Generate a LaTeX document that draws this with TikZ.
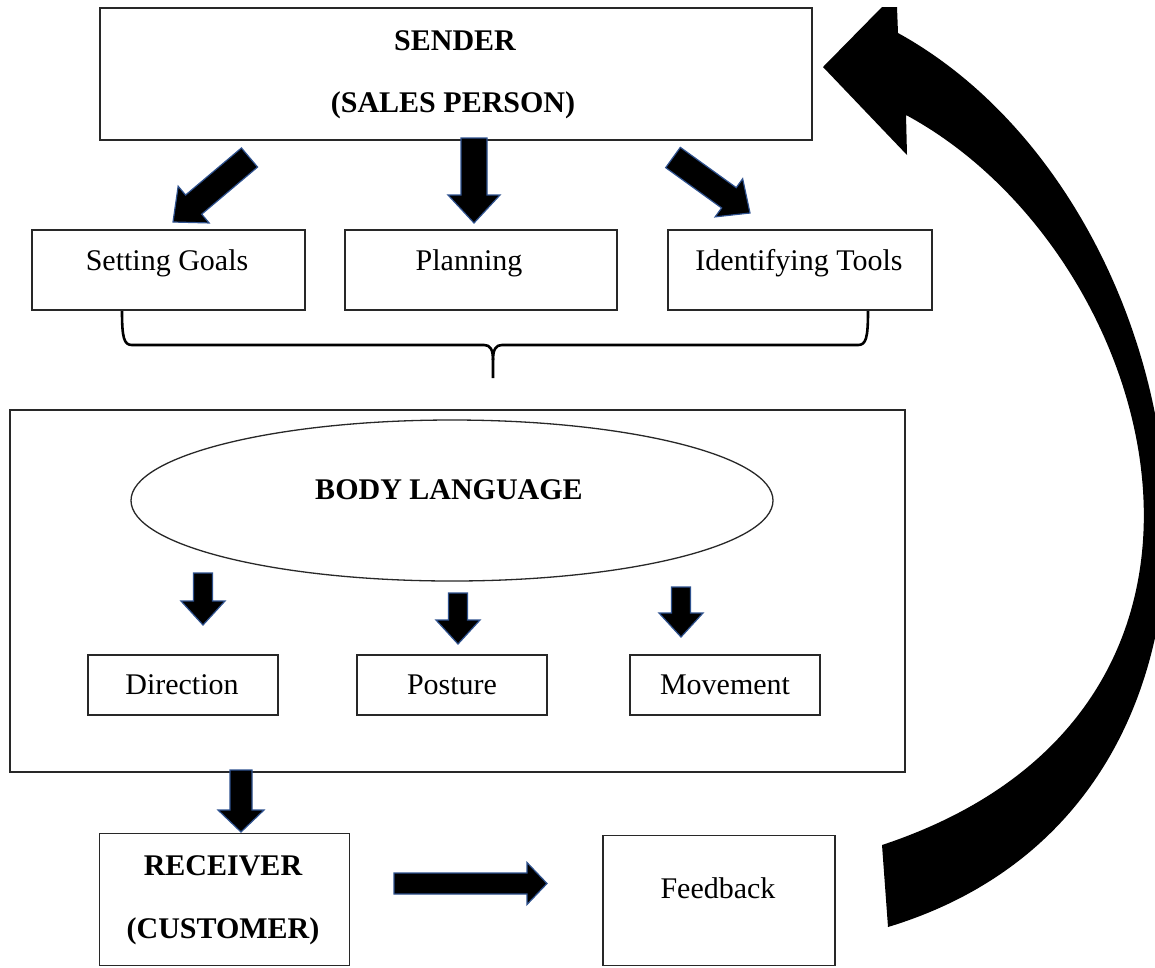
\documentclass[tikz,border=0pt]{standalone}
\usepackage{fontspec}
\setmainfont{Liberation Serif}
\usetikzlibrary{calc,shapes.geometric}
\definecolor{arrowedge}{RGB}{47,82,143}
\definecolor{boxedge}{RGB}{40,40,40}
\tikzset{
  box/.style={draw=boxedge, line width=1.3pt, fill=none, inner sep=0pt, anchor=center},
  txt/.style={font=\fontsize{30}{36}\selectfont, inner sep=0pt, anchor=base},
  txtb/.style={txt, font=\fontsize{30}{36}\selectfont\bfseries},
  barrow/.style={fill=black, draw=arrowedge, line width=1.2pt, line join=miter},
  bracestyle/.style={draw=black, line width=2.6pt, line join=round},
  bigarrow/.style={fill=black, draw=none},
}
\newcommand\blockarr[5]{%
  \coordinate (hb) at ($(#2)!#5!(#1)$);
  \filldraw[barrow] ($(#1)!#3!90:(#2)$) -- ($(hb)!#3!90:(#2)$) -- ($(hb)!#4!90:(#2)$) -- (#2)
    -- ($(hb)!#4!-90:(#2)$) -- ($(hb)!#3!-90:(#2)$) -- ($(#1)!#3!-90:(#2)$) -- cycle;
}
\begin{document}
\begin{tikzpicture}[x=1pt, y=-1pt]
\useasboundingbox (0,0) rectangle (1155,967);
\fill[white] (0,0) rectangle (1155,967);

% boxes
\node[box, minimum width=712pt, minimum height=132pt] (sender) at (456,74) {};
\node[txtb] (senderA) at (455,50) {SENDER};
\node[txtb] (senderB) at (453,112) {(SALES PERSON)};

\node[box, minimum width=273pt, minimum height=80pt] (goals) at (168.5,270) {};
\node[txt] (goalsT) at (167,270) {Setting Goals};
\node[box, minimum width=272pt, minimum height=80pt] (plan) at (481,270) {};
\node[txt] (planT) at (469,270) {Planning};
\node[box, minimum width=264pt, minimum height=80pt] (tools) at (800,270) {};
\node[txt] (toolsT) at (799,270) {Identifying Tools};

% brace
\draw[bracestyle] (122,311) .. controls (122,338) and (124,345) .. (132,345) -- (484,345)
  .. controls (490,345) and (493,349) .. (493,360) -- (493,378);
\draw[bracestyle] (493,360) .. controls (493,349) and (496,345) .. (502,345) -- (858,345)
  .. controls (866,345) and (868,338) .. (868,311);

% body language frame
\node[box, minimum width=895pt, minimum height=362pt] (frame) at (457.5,591) {};
\node[draw=boxedge, line width=1.3pt, ellipse, minimum width=642pt, minimum height=161pt, inner sep=0pt] (body) at (452,500.5) {};
\node[txtb] (bodyT) at (449,499) {BODY LANGUAGE};

\node[box, minimum width=190pt, minimum height=60pt] (dir) at (183,685) {};
\node[txt] (dirT) at (182,694) {Direction};
\node[box, minimum width=190pt, minimum height=60pt] (pos) at (452,685) {};
\node[txt] (posT) at (452,694) {Posture};
\node[box, minimum width=190pt, minimum height=60pt] (mov) at (725,685) {};
\node[txt] (movT) at (725,694) {Movement};

% receiver / feedback
\node[box, minimum width=250pt, minimum height=132pt] (recv) at (224.5,899.5) {};
\node[txtb] (recvA) at (223,875) {RECEIVER};
\node[txtb] (recvB) at (223,938) {(CUSTOMER)};
\node[box, minimum width=232pt, minimum height=130pt] (feed) at (719,900.5) {};
\node[txt] (feedT) at (718,898) {Feedback};

% block arrows
\coordinate (a1s) at (249.5,157.5); \coordinate (a1e) at (173,222);
\coordinate (a2s) at (474,138);     \coordinate (a2e) at (474,223);
\coordinate (a3s) at (673,157.5);   \coordinate (a3e) at (750,213);
\coordinate (a4s) at (203,573);     \coordinate (a4e) at (203,625);
\coordinate (a5s) at (458,593);     \coordinate (a5e) at (458,644);
\coordinate (a6s) at (681,587);     \coordinate (a6e) at (681,637);
\coordinate (a7s) at (241,770);     \coordinate (a7e) at (241,832);
\coordinate (a8s) at (394,883.5);   \coordinate (a8e) at (547,883.5);
\blockarr{a1s}{a1e}{12.5pt}{24pt}{27pt}
\blockarr{a2s}{a2e}{13pt}{26pt}{28pt}
\blockarr{a3s}{a3e}{12.5pt}{23.5pt}{26pt}
\blockarr{a4s}{a4e}{9.5pt}{22pt}{24pt}
\blockarr{a5s}{a5e}{9.5pt}{22pt}{24pt}
\blockarr{a6s}{a6e}{9.5pt}{22pt}{24pt}
\blockarr{a7s}{a7e}{11pt}{23pt}{22pt}
\blockarr{a8s}{a8e}{10.5pt}{21pt}{20pt}

% big curved feedback arrow
\fill[bigarrow] (888,927) -- (882,845)
  .. controls (1290,710) and (1160,252) .. (906,115)
  -- (907,155) -- (823,67) -- (882,7) -- (897,7) -- (898,33)
  .. controls (1210,205) and (1303,801) .. (888,927) -- cycle;
\end{tikzpicture}
\end{document}
